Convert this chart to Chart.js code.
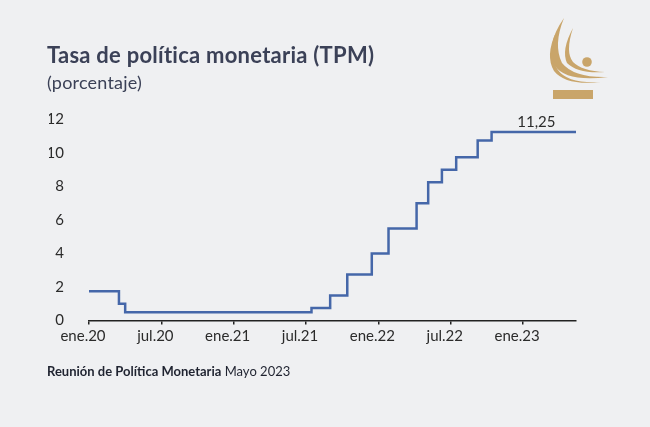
<!DOCTYPE html>
<html>
<head>
<meta charset="utf-8">
<script src="https://cdn.jsdelivr.net/npm/chart.js@4.4.0/dist/chart.umd.min.js"></script>
<style>
html, body { margin: 0; padding: 0; background: #eff0f2; }
#wrap { position: relative; width: 650px; height: 427px; overflow: hidden; font-family: Lato, sans-serif; }
#c { position: absolute; left: 0; top: 0; }
.t { position: absolute; left: 47px; white-space: nowrap; color: #3b4157; }
#title { top: 42px; font-size: 22px; line-height: 25px; font-weight: bold; letter-spacing: 0.25px; }
#sub { top: 72px; font-size: 18px; line-height: 21px; letter-spacing: 0.2px; }
#foot { top: 363px; font-size: 13px; line-height: 16px; color: #1f2330; }
#logo { position: absolute; left: 540px; top: 10px; }
</style>
</head>
<body>
<div id="wrap">
  <canvas id="c" width="650" height="427"></canvas>
  <div class="t" id="title">Tasa de política monetaria (TPM)</div>
  <div class="t" id="sub">(porcentaje)</div>
  <div class="t" id="foot"><b>Reunión de Política Monetaria</b> Mayo 2023</div>
  <svg id="logo" width="80" height="95" viewBox="540 10 80 95">
    <g fill="#c9a56a">
      <path d="M564,18 Q545,45 555,66 Q566,82 608,77 Q574,78 562,63 Q553,45 564,18 Z"/>
      <path d="M556,32 Q545,56 554,71 Q566,86 601,82 Q568,84 558,70 Q549,57 556,32 Z"/>
      <path d="M573,28 Q561,50 567,63 Q578,74 605,72 Q582,71 573,62 Q565,52 573,28 Z"/>
      <circle cx="587" cy="62" r="4.8"/>
      <rect x="553" y="90" width="40" height="9"/>
    </g>
  </svg>
</div>
<script>
// fechas de cambio de la TPM y nivel vigente desde esa fecha
var changeDates = ['2020-01-01', '2020-03-16', '2020-04-01', '2021-07-15', '2021-09-01',
                   '2021-10-14', '2021-12-15', '2022-01-27', '2022-04-06', '2022-05-05',
                   '2022-06-09', '2022-07-15', '2022-09-08', '2022-10-13', '2023-05-13'];
var tpmValues = [1.75, 1.00, 0.50, 0.75, 1.50,
                 2.75, 4.00, 5.50, 7.00, 8.25,
                 9.00, 9.75, 10.75, 11.25, 11.25];
var xTickLabels = ['ene.20', 'jul.20', 'ene.21', 'jul.21', 'ene.22', 'jul.22', 'ene.23'];
var yTicks = [0, 2, 4, 6, 8, 10, 12];
var lastLabel = '11,25';

// meses (fraccionales) desde enero 2020
function toMonths(s) {
  var p = s.split('-').map(Number);
  var dim = new Date(p[0], p[1], 0).getDate();
  return (p[0] - 2020) * 12 + (p[1] - 1) + (p[2] - 1) / dim;
}

var points = changeDates.map((d, i) => ({ x: toMonths(d), y: tpmValues[i] }));

var labelPlugin = {
  id: 'lastLabel',
  afterDatasetsDraw(chart) {
    var ctx = chart.ctx;
    var xs = chart.scales.x, ys = chart.scales.y;
    ctx.save();
    ctx.font = '15px Lato, sans-serif';
    ctx.fillStyle = '#2b2b2b';
    ctx.textAlign = 'center';
    ctx.textBaseline = 'alphabetic';
    ctx.fillText(lastLabel, xs.getPixelForValue(37.1), ys.getPixelForValue(tpmValues[tpmValues.length - 1]) - 5.5);
    ctx.restore();
  }
};

var ctx = document.getElementById('c').getContext('2d');
var chart = new Chart(ctx, {
  type: 'line',
  data: {
    datasets: [{
      data: points,
      stepped: true,
      borderColor: '#4567a9',
      borderWidth: 2.5,
      pointRadius: 0,
      fill: false
    }]
  },
  options: {
    responsive: false,
    animation: false,
    layout: { padding: { left: 49, right: 74, top: 119.5, bottom: 76.5 } },
    plugins: { legend: { display: false }, tooltip: { enabled: false } },
    scales: {
      x: {
        type: 'linear',
        min: 0,
        max: points[points.length - 1].x,
        afterBuildTicks: (s) => { s.ticks = xTickLabels.map((_, i) => ({ value: i * 6 })); },
        afterFit: (s) => { s.height = 30; },
        ticks: {
          callback: (v) => xTickLabels[Math.round(v / 6)],
          autoSkip: false,
          maxRotation: 0,
          labelOffset: -6,
          padding: 3,
          color: '#2b2b2b',
          font: { family: 'Lato, sans-serif', size: 15 }
        },
        grid: { drawOnChartArea: false, drawTicks: true, tickLength: 4, tickColor: '#222', lineWidth: 1.5 },
        border: { display: true, color: '#222', width: 1.5 }
      },
      y: {
        min: 0,
        max: 12,
        afterBuildTicks: (s) => { s.ticks = yTicks.map((v) => ({ value: v })); },
        afterFit: (s) => { s.width = 40; },
        ticks: {
          padding: 25,
          color: '#2b2b2b',
          font: { family: 'Lato, sans-serif', size: 15 }
        },
        grid: { display: false, drawTicks: false },
        border: { display: false }
      }
    }
  },
  plugins: [labelPlugin]
});
</script>
</body>
</html>
